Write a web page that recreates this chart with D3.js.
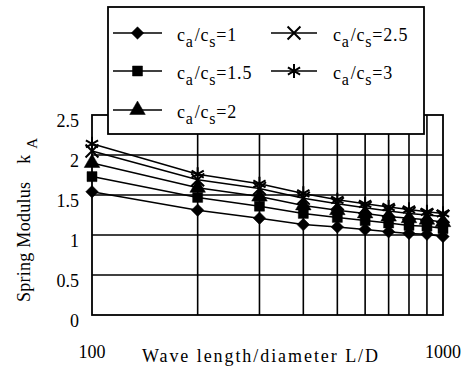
<!DOCTYPE html>
<html>
<head>
<meta charset="utf-8">
<script src="https://cdn.jsdelivr.net/npm/d3@7"></script>
<style>
body{margin:0;background:#fff;}
svg{display:block;font-family:"Liberation Serif","DejaVu Serif",serif;}
</style>
</head>
<body>
<div class="chart"></div>
<script>
// L/D values
const ld=[100,200,300,400,500,600,700,800,900,1000];
// spring modulus kA for each ca/cs
const k1=[1.54,1.31,1.21,1.13,1.10,1.07,1.04,1.02,1.01,0.98];
const k15=[1.73,1.47,1.36,1.27,1.22,1.18,1.15,1.12,1.11,1.08];
const k2=[1.90,1.59,1.48,1.37,1.31,1.27,1.23,1.21,1.19,1.16];
const k25=[2.05,1.69,1.58,1.46,1.39,1.34,1.30,1.27,1.25,1.23];
const k3=[2.14,1.76,1.64,1.52,1.44,1.39,1.35,1.32,1.29,1.27];
const ratios=['1','1.5','2','2.5','3'];
const yTicks=[0,0.5,1,1.5,2,2.5];
const yTickLabels=['0','0.5','1','1.5','2','2.5'];
const xTickLabels=[[100,'100'],[1000,'1000']];

const width=468, height=369;
const svg=d3.select('.chart').append('svg')
	.attr('width',width)
	.attr('height',height)

const x=d3.scaleLog().domain([100,1000]).range([92,443]);
const y=d3.scaleLinear().domain([0,2.5]).range([315,115]);

// grid
svg.append('g')
	.selectAll('line')
	.data(ld.slice(1,-1))
	.enter()
	.append('line')
	.attr('x1',d=>x(d)).attr('x2',d=>x(d))
	.attr('y1',y(0)).attr('y2',y(2.5))
	.attr('stroke','#000').attr('stroke-width',1.6)

svg.append('g')
	.selectAll('line')
	.data(yTicks.slice(1,-1))
	.enter()
	.append('line')
	.attr('x1',x(100)).attr('x2',x(1000))
	.attr('y1',d=>y(d)).attr('y2',d=>y(d))
	.attr('stroke','#000').attr('stroke-width',1.6)

svg.append('rect')
	.attr('x',x(100)).attr('y',y(2.5))
	.attr('width',x(1000)-x(100))
	.attr('height',y(0)-y(2.5))
	.attr('fill','none').attr('stroke','#000').attr('stroke-width',1.8)

// tick labels
svg.selectAll('.ylab')
	.data(yTicks)
	.enter()
	.append('text')
	.attr('x',79)
	.attr('y',d=>y(d)+12)
	.attr('text-anchor','end')
	.attr('font-size',18)
	.text((d,i)=>yTickLabels[i])

svg.selectAll('.xlab')
	.data(xTickLabels)
	.enter()
	.append('text')
	.attr('x',d=>x(d[0]))
	.attr('y',358)
	.attr('text-anchor','middle')
	.attr('font-size',18)
	.text(d=>d[1])

svg.append('text')
	.attr('x',142).attr('y',362)
	.attr('font-size',18)
	.attr('textLength',236)
	.attr('lengthAdjust','spacing')
	.text('Wave length/diameter  L/D')

const yt=svg.append('text')
	.attr('transform','translate(30,302) rotate(-90)')
	.attr('font-size',18)
yt.append('tspan').attr('textLength',120).attr('lengthAdjust','spacing').text('Spring Modulus')
yt.append('tspan').attr('dx',18).text('k')
yt.append('tspan').attr('dx',6).attr('dy',7).attr('font-size',15).text('A')

// series
const series=[k1,k15,k2,k25,k3];
const symbols=[d3.symbolDiamond2||d3.symbolDiamond,d3.symbolSquare,d3.symbolTriangle,d3.symbolTimes,d3.symbolAsterisk];
const sizes=[100,100,105,110,140];
const filled=[true,true,true,false,false];

const line=d3.line().x((d,i)=>x(ld[i])).y(d=>y(d));

series.forEach((s,j)=>{
	svg.append('path')
		.attr('d',line(s))
		.attr('fill','none')
		.attr('stroke','#000')
		.attr('stroke-width',1.5)
	svg.selectAll('.m'+j)
		.data(s)
		.enter()
		.append('path')
		.attr('transform',(d,i)=>'translate('+x(ld[i])+','+y(d)+')')
		.attr('d',d3.symbol().type(symbols[j]).size(sizes[j]))
		.attr('fill',filled[j]?'#000':'none')
		.attr('stroke','#000')
		.attr('stroke-width',filled[j]?0.5:2)
})

// legend
const lg=svg.append('g')
lg.append('rect')
	.attr('x',108).attr('y',7)
	.attr('width',316).attr('height',127)
	.attr('fill','#fff').attr('stroke','#000').attr('stroke-width',1.8)

const legPos=[[113,33],[113,71],[113,110],[271,33],[271,71]];
ratios.forEach((r,j)=>{
	const [lx,ly]=legPos[j];
	const len=j<3?49:46;
	lg.append('line')
		.attr('x1',lx).attr('x2',lx+len)
		.attr('y1',ly).attr('y2',ly)
		.attr('stroke','#000').attr('stroke-width',1.5)
	lg.append('path')
		.attr('transform','translate('+(lx+len/2)+','+ly+')')
		.attr('d',d3.symbol().type(symbols[j]).size(sizes[j]))
		.attr('fill',filled[j]?'#000':'none')
		.attr('stroke','#000')
		.attr('stroke-width',filled[j]?0.5:2)
	const t=lg.append('text')
		.attr('x',j<3?177:333)
		.attr('y',ly+8)
		.attr('font-size',18)
		.attr('letter-spacing',0.8)
	t.append('tspan').text('c')
	t.append('tspan').attr('dy',6).attr('font-size',16).text('a')
	t.append('tspan').attr('dy',-6).attr('dx',1).text('/c')
	t.append('tspan').attr('dy',6).attr('font-size',16).text('s')
	t.append('tspan').attr('dy',-6).text('='+r)
})
</script>
</body>
</html>
